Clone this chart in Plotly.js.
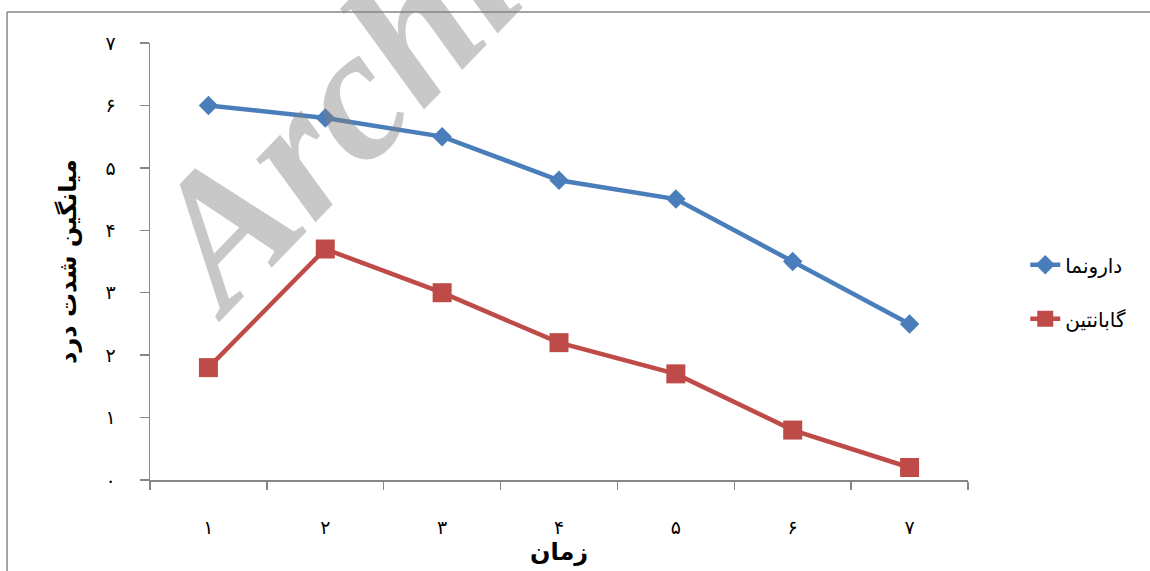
<!DOCTYPE html>
<html>
<head>
<meta charset="utf-8">
<script src="https://cdn.plot.ly/plotly-3.0.1.min.js"></script>
<style>html,body{margin:0;padding:0;background:#fff;}#chart{width:1150px;height:571px;}</style>
</head>
<body>
<div id="chart"></div>
<script>
// Data
var categories = ['۱', '۲', '۳', '۴', '۵', '۶', '۷'];
var placeboName = 'دارونما';
var placeboValues = [6.0, 5.8, 5.5, 4.8, 4.5, 3.5, 2.5];
var gabaName = 'گابانتین';
var gabaValues = [1.8, 3.7, 3.0, 2.2, 1.7, 0.8, 0.2];
var yTickVals = [0, 1, 2, 3, 4, 5, 6, 7];
var yTickText = ['۰', '۱', '۲', '۳', '۴', '۵', '۶', '۷'];
var xTitle = 'زمان';
var yTitle = 'میانگین شدت درد';
var watermarkText = 'Archive';

var axisColor = '#868686';
var arabicFont = 'DejaVu Sans, Noto Sans, sans-serif';

var traces = [
  {
    x: categories, y: placeboValues, name: placeboName, type: 'scatter', mode: 'lines+markers',
    legendgroup: 'a',
    line: {color: '#4A7EBB', width: 4.5},
    marker: {symbol: 'diamond', size: 15, color: '#4A7EBB'}
  },
  {
    x: categories, y: gabaValues, name: gabaName, type: 'scatter', mode: 'lines+markers',
    legendgroup: 'b',
    line: {color: '#BE4B48', width: 4.5},
    marker: {symbol: 'square', size: 19, color: '#BE4B48'}
  }
];

var layout = {
  width: 1150, height: 571,
  margin: {l: 150, r: 182, t: 43, b: 91, autoexpand: false},
  paper_bgcolor: '#ffffff', plot_bgcolor: '#ffffff',
  showlegend: true,
  legend: {
    x: 1.07, xanchor: 'left', y: 0.537, yanchor: 'top',
    font: {family: arabicFont, size: 20, color: '#000'},
    traceorder: 'grouped', tracegroupgap: 25,
    bgcolor: 'rgba(0,0,0,0)'
  },
  xaxis: {
    type: 'category',
    range: [-0.5, categories.length - 0.5],
    showgrid: false, zeroline: false,
    showline: true, linecolor: axisColor, linewidth: 1.5,
    ticks: 'outside', tickson: 'boundaries', ticklen: 8, tickcolor: axisColor, tickwidth: 1.3,
    ticklabelstandoff: 30,
    tickfont: {family: arabicFont, size: 19, color: '#000'},
    title: {text: xTitle, font: {family: arabicFont, size: 24, color: '#000', weight: 'bold'}, standoff: 2},
    fixedrange: true
  },
  yaxis: {
    range: [0, 7],
    tickvals: yTickVals, ticktext: yTickText,
    showgrid: false, zeroline: false,
    showline: true, linecolor: axisColor, linewidth: 1.5,
    ticks: 'outside', ticklen: 9, tickcolor: axisColor, tickwidth: 1.3,
    ticklabelstandoff: 20,
    tickfont: {family: arabicFont, size: 19, color: '#000'},
    title: {text: yTitle, font: {family: arabicFont, size: 24, color: '#000', weight: 'bold'}, standoff: 22},
    fixedrange: true
  },
  shapes: [
    {type: 'line', xref: 'paper', yref: 'paper', x0: -0.1748, x1: -0.1748, y0: -0.4, y1: 1.0709,
     line: {color: axisColor, width: 1.5}},
    {type: 'line', xref: 'paper', yref: 'paper', x0: -0.1748, x1: 1.3, y0: 1.0709, y1: 1.0709,
     line: {color: axisColor, width: 1.5}}
  ],
  annotations: [
    {
      text: watermarkText, xref: 'paper', yref: 'paper', x: 0.29, y: 0.969,
      xanchor: 'center', yanchor: 'middle', showarrow: false, textangle: -46,
      font: {family: 'Liberation Serif, Times New Roman, serif', size: 188, color: 'rgba(128,128,128,0.43)', weight: 'bold', style: 'italic'}
    }
  ]
};

Plotly.newPlot('chart', traces, layout, {displayModeBar: false, staticPlot: true});
</script>
</body>
</html>
